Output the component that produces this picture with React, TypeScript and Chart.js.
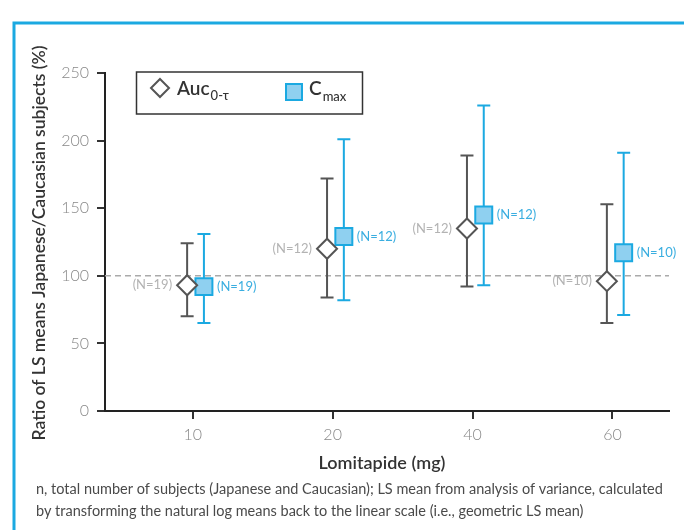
import React, { useEffect, useRef } from "react";
import { Chart, registerables } from "chart.js";

Chart.register(...registerables);

const doses = ["10", "20", "40", "60"];
const aucMean = [93, 120, 135, 96];
const aucLow = [70, 84, 92, 65];
const aucHigh = [124, 172, 189, 153];
const cmaxMean = [92, 129, 145, 117];
const cmaxLow = [65, 82, 93, 71];
const cmaxHigh = [131, 201, 226, 191];
const nLabels = ["(N=19)", "(N=12)", "(N=12)", "(N=10)"];
const yTicks = [0, 50, 100, 150, 200, 250];
const refValue = 100;

const AUC_DODGE = -0.04;
const CMAX_DODGE = 0.08;
const X_MIN = 0.373;
const X_MAX = 4.404;

const BLUE = "#1ba9e1";
const BLUE_FILL = "#8fd0f0";
const DARK = "#555555";
const FONT = "Lato, 'Open Sans', sans-serif";

const overlay = {
  id: "overlay",
  beforeDatasetsDraw(chart: any) {
    const { ctx, chartArea, scales } = chart;
    const xs = scales.x;
    const ys = scales.y;
    ctx.save();
    ctx.strokeStyle = "#aaaaaa";
    ctx.lineWidth = 1.5;
    ctx.setLineDash([6, 4]);
    ctx.beginPath();
    const yr = ys.getPixelForValue(refValue);
    ctx.moveTo(chartArea.left, yr);
    ctx.lineTo(chartArea.right, yr);
    ctx.stroke();
    ctx.setLineDash([]);
    const drawBar = (xv: number, lo: number, hi: number, color: string) => {
      const x = xs.getPixelForValue(xv);
      const y1 = ys.getPixelForValue(lo);
      const y2 = ys.getPixelForValue(hi);
      ctx.strokeStyle = color;
      ctx.lineWidth = 2;
      ctx.beginPath();
      ctx.moveTo(x, y1);
      ctx.lineTo(x, y2);
      ctx.moveTo(x - 6.5, y1);
      ctx.lineTo(x + 6.5, y1);
      ctx.moveTo(x - 6.5, y2);
      ctx.lineTo(x + 6.5, y2);
      ctx.stroke();
    };
    doses.forEach((_, i) => {
      drawBar(i + 1 + AUC_DODGE, aucLow[i], aucHigh[i], DARK);
      drawBar(i + 1 + CMAX_DODGE, cmaxLow[i], cmaxHigh[i], BLUE);
    });
    ctx.restore();
  },
  afterDatasetsDraw(chart: any) {
    const { ctx, scales } = chart;
    const xs = scales.x;
    const ys = scales.y;
    ctx.save();
    ctx.font = `400 13px ${FONT}`;
    ctx.textBaseline = "middle";
    doses.forEach((_, i) => {
      const xa = xs.getPixelForValue(i + 1 + AUC_DODGE);
      const ya = ys.getPixelForValue(aucMean[i]);
      ctx.fillStyle = "#b3b3b3";
      ctx.textAlign = "right";
      ctx.fillText(nLabels[i], xa - 15, ya);
      const xc = xs.getPixelForValue(i + 1 + CMAX_DODGE);
      const yc = ys.getPixelForValue(cmaxMean[i]);
      ctx.fillStyle = "#3aaee0";
      ctx.textAlign = "left";
      ctx.fillText(nLabels[i], xc + 13, yc);
    });
    ctx.restore();
  },
  afterDraw(chart: any) {
    const { ctx, chartArea } = chart;
    ctx.save();
    ctx.strokeStyle = BLUE;
    ctx.lineWidth = 3;
    ctx.beginPath();
    ctx.moveTo(14, 540);
    ctx.lineTo(14, 23);
    ctx.lineTo(700, 23);
    ctx.stroke();

    ctx.fillStyle = "#333333";
    ctx.font = `600 17.5px ${FONT}`;
    ctx.textAlign = "center";
    ctx.textBaseline = "middle";
    ctx.save();
    ctx.translate(39, (chartArea.top + chartArea.bottom) / 2 + 1);
    ctx.rotate(-Math.PI / 2);
    ctx.fillText("Ratio of LS means Japanese/Caucasian subjects (%)", 0, 0);
    ctx.restore();

    ctx.font = `600 18px ${FONT}`;
    ctx.fillText("Lomitapide (mg)", 382, 463);

    ctx.fillStyle = "#4a4a4a";
    ctx.font = `400 14.5px ${FONT}`;
    ctx.textAlign = "left";
    ctx.fillText(
      "n, total number of subjects (Japanese and Caucasian); LS mean from analysis of variance, calculated",
      36,
      489
    );
    ctx.fillText(
      "by transforming the natural log means back to the linear scale (i.e., geometric LS mean)",
      36,
      511
    );

    ctx.strokeStyle = "#333333";
    ctx.lineWidth = 1.5;
    ctx.strokeRect(136.5, 72, 226, 42);
    ctx.beginPath();
    ctx.moveTo(160, 79);
    ctx.lineTo(169, 88);
    ctx.lineTo(160, 97);
    ctx.lineTo(151, 88);
    ctx.closePath();
    ctx.fillStyle = "#ffffff";
    ctx.fill();
    ctx.strokeStyle = DARK;
    ctx.lineWidth = 2;
    ctx.stroke();
    ctx.fillStyle = "#333333";
    ctx.textBaseline = "alphabetic";
    ctx.font = `600 19px ${FONT}`;
    ctx.fillText("Auc", 177, 95);
    const w1 = ctx.measureText("Auc").width;
    ctx.font = `500 13px ${FONT}`;
    ctx.fillText("0-τ", 177 + w1 + 1, 100);
    ctx.fillStyle = BLUE_FILL;
    ctx.fillRect(286, 84, 16, 16);
    ctx.strokeStyle = BLUE;
    ctx.lineWidth = 2;
    ctx.strokeRect(286, 84, 16, 16);
    ctx.fillStyle = "#333333";
    ctx.font = `600 19px ${FONT}`;
    ctx.fillText("C", 309, 95);
    const w2 = ctx.measureText("C").width;
    ctx.font = `500 13px ${FONT}`;
    ctx.fillText("max", 309 + w2 + 1, 101);
    ctx.restore();
  },
};

export default function App() {
  const ref = useRef<HTMLCanvasElement | null>(null);
  useEffect(() => {
    if (!ref.current) return;
    const chart = new Chart(ref.current, {
      type: "scatter",
      data: {
        datasets: [
          {
            label: "Auc",
            data: doses.map((_, i) => ({ x: i + 1 + AUC_DODGE, y: aucMean[i] })),
            pointStyle: "rectRot",
            pointRadius: 10,
            pointHoverRadius: 10,
            backgroundColor: "#ffffff",
            borderColor: DARK,
            borderWidth: 2,
          },
          {
            label: "Cmax",
            data: doses.map((_, i) => ({ x: i + 1 + CMAX_DODGE, y: cmaxMean[i] })),
            pointStyle: "rect",
            pointRadius: 12,
            pointHoverRadius: 12,
            backgroundColor: BLUE_FILL,
            borderColor: BLUE,
            borderWidth: 2,
          },
        ],
      },
      options: {
        responsive: false,
        animation: false,
        events: [],
        layout: { padding: { top: 73, right: 15, bottom: 0, left: 0 } },
        plugins: { legend: { display: false }, tooltip: { enabled: false } },
        scales: {
          x: {
            type: "linear",
            min: X_MIN,
            max: X_MAX,
            afterFit: (s: any) => {
              s.height = 119;
            },
            afterBuildTicks: (s: any) => {
              s.ticks = doses.map((_, i) => ({ value: i + 1 }));
            },
            ticks: {
              callback: (v: any) => doses[Math.round(Number(v)) - 1] ?? "",
              color: "#888888",
              font: { family: FONT, size: 16, weight: "300" as any },
              padding: 6,
              autoSkip: false,
              maxRotation: 0,
            },
            grid: {
              drawOnChartArea: false,
              drawTicks: true,
              tickLength: 8,
              color: "#333333",
              lineWidth: 2,
            },
            border: { display: true, color: "#222222", width: 2 },
          },
          y: {
            min: 0,
            max: 250,
            afterFit: (s: any) => {
              s.width = 105;
            },
            afterBuildTicks: (s: any) => {
              s.ticks = yTicks.map((v) => ({ value: v }));
            },
            ticks: {
              color: "#888888",
              font: { family: FONT, size: 16, weight: "300" as any },
              padding: 8,
            },
            grid: {
              drawOnChartArea: false,
              drawTicks: true,
              tickLength: 8,
              color: "#333333",
              lineWidth: 2,
            },
            border: { display: true, color: "#222222", width: 2 },
          },
        },
      },
      plugins: [overlay],
    });
    return () => chart.destroy();
  }, []);
  return (
    <div style={{ position: "absolute", left: 0, top: 0, width: 684, height: 530, background: "#fff" }}>
      <canvas ref={ref} width={684} height={530} style={{ width: 684, height: 530 }} />
    </div>
  );
}
